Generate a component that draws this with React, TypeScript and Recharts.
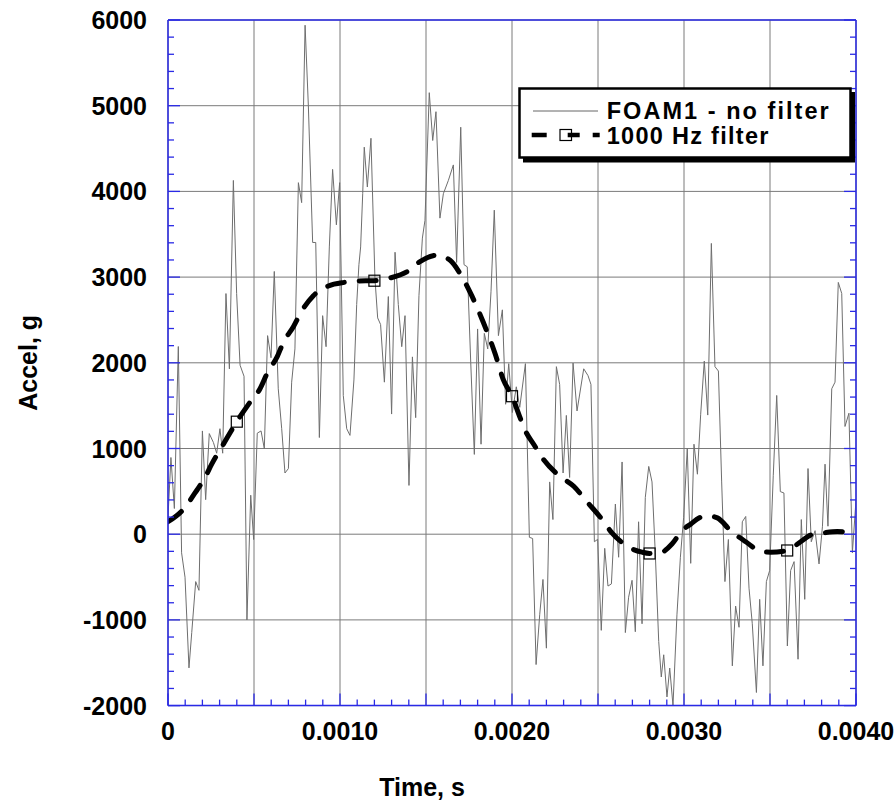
import React from 'react';
import { LineChart, Line, XAxis, YAxis, CartesianGrid, Legend } from 'recharts';

// ---------- data (time in ms, acceleration in g) ----------
const rawTimeMs = [
  0, 0.017, 0.037, 0.06, 0.079, 0.099, 0.122, 0.138, 0.161, 0.18,
  0.2, 0.219, 0.24, 0.264, 0.283, 0.302, 0.318, 0.337, 0.357, 0.38,
  0.399, 0.419, 0.442, 0.459, 0.481, 0.498, 0.519, 0.541, 0.56, 0.579,
  0.599, 0.618, 0.641, 0.661, 0.68, 0.7, 0.719, 0.738, 0.758, 0.777,
  0.797, 0.816, 0.841, 0.859, 0.88, 0.899, 0.919, 0.938, 0.957, 0.979,
  0.998, 1.019, 1.039, 1.058, 1.081, 1.097, 1.11, 1.12, 1.132, 1.141,
  1.159, 1.18, 1.203, 1.219, 1.236, 1.258, 1.281, 1.3, 1.32, 1.339,
  1.359, 1.378, 1.401, 1.421, 1.44, 1.459, 1.479, 1.494, 1.519, 1.539,
  1.558, 1.581, 1.601, 1.63, 1.659, 1.678, 1.702, 1.721, 1.74, 1.76,
  1.781, 1.8, 1.82, 1.839, 1.859, 1.878, 1.897, 1.921, 1.944, 1.963,
  1.981, 2.002, 2.025, 2.045, 2.078, 2.101, 2.12, 2.14, 2.161, 2.18,
  2.2, 2.219, 2.238, 2.258, 2.277, 2.297, 2.316, 2.335, 2.355, 2.378,
  2.417, 2.442, 2.459, 2.479, 2.498, 2.519, 2.539, 2.558, 2.578, 2.601,
  2.62, 2.64, 2.659, 2.678, 2.698, 2.717, 2.736, 2.756, 2.775, 2.795,
  2.814, 2.833, 2.853, 2.868, 2.882, 2.901, 2.917, 2.936, 2.959, 2.979,
  2.998, 3.019, 3.039, 3.058, 3.078, 3.097, 3.118, 3.138, 3.159, 3.18,
  3.2, 3.219, 3.238, 3.258, 3.281, 3.3, 3.32, 3.339, 3.359, 3.378,
  3.397, 3.421, 3.44, 3.459, 3.479, 3.498, 3.519, 3.539, 3.56, 3.581,
  3.601, 3.62, 3.64, 3.663, 3.682, 3.702, 3.721, 3.74, 3.762, 3.785,
  3.805, 3.82, 3.837, 3.859, 3.878, 3.897, 3.917, 3.936, 3.959, 3.979,
  4.0,
];
const rawAccel = [
  200, 895, 300, 2190, -217, -502, -1560, -1148, -553, -655,
  1205, 403, 1174, 1070, 945, 1231, 945, 2808, 1929, 4128,
  2808, 1972, 1843, -1000, 455, -62, 1179, 1205, 998, 2317,
  2059, 3066, 1697, 1231, 714, 766, 1774, 2162, 4102, 3869,
  5939, 5000, 3404, 3404, 1128, 2550, 2188, 3352, 4257, 3610,
  4102, 1619, 1231, 1153, 1800, 2680, 3145, 3352, 3973, 4516,
  4051, 4620, 2990, 2524, 2447, 1774, 2773, 1402, 3290, 2680,
  2188, 2550, 569, 2069, 1360, 2783, 3455, 3662, 5152, 4594,
  4930, 3688, 3973, 4128, 4309, 3171, 4749, 3145, 3120, 2007,
  931, 2395, 1050, 2343, 2162, 2835, 3781, 2317, 2618, 1516,
  1990, 1420, 1720, 1480, 1990, -36, -50, -1521, -940, -528,
  -1330, 610, 171, 1955, 1748, 714, 1386, 662, 1997, 1438,
  1930, 1850, 1748, -88, -60, -1122, -165, -605, -580, 352,
  -269, 843, -1148, -735, -538, -1138, 145, -1045, 429, 791,
  610, -217, -1252, -1666, -1407, -1899, -1562, -2000, -941, -269,
  197, 1000, -340, 1050, 700, 1400, 2020, 1390, 3393, 1955,
  1904, 610, -553, -62, -1536, -838, -1086, 145, 207, -630,
  -1045, -1847, -760, -1536, -553, -424, 688, 1619, 497, 481,
  -1304, -424, -320, -1459, 171, -760, 766, -88, 41, -347,
  93, 817, 93, 1697, 1774, 2938, 2809, 1257, 1412, -217,
  400,
];

const filtTimeMs = [
  0, 0.089, 0.157, 0.215, 0.254, 0.322, 0.4, 0.477, 0.535, 0.583,
  0.632, 0.671, 0.729, 0.777, 0.845, 0.932, 1.029, 1.1, 1.2, 1.291,
  1.388, 1.465, 1.562, 1.64, 1.698, 1.766, 1.833, 1.901, 1.95, 2.0,
  2.047, 2.078, 2.126, 2.184, 2.271, 2.359, 2.436, 2.514, 2.581, 2.669,
  2.756, 2.8, 2.862, 2.93, 2.988, 3.04, 3.087, 3.136, 3.194, 3.271,
  3.359, 3.446, 3.504, 3.6, 3.678, 3.736, 3.814, 3.891, 4.0,
];
const filtAccel = [
  145, 290, 481, 662, 817, 1050, 1313, 1541, 1697, 1904,
  2059, 2240, 2421, 2602, 2783, 2897, 2940, 2955, 2958, 2990,
  3060, 3181, 3255, 3197, 3042, 2783, 2473, 2111, 1800, 1610,
  1360, 1205, 1050, 869, 688, 559, 378, 197, 16, -140,
  -210, -225, -217, -114, 41, 120, 190, 215, 190, 41,
  -88, -200, -210, -190, -88, -10, 16, 31, 0,
];
const filtMarkerTimesMs = [0.4, 1.2, 2.0, 2.8, 3.6];

const seriesNames = ['FOAM1 - no filter', '1000 Hz filter'];

// axis ticks (ms / g)
const xMinorTicks = [
  0, 0.1, 0.2, 0.3, 0.4, 0.5, 0.6, 0.7, 0.8, 0.9,
  1, 1.1, 1.2, 1.3, 1.4, 1.5, 1.6, 1.7, 1.8, 1.9,
  2, 2.1, 2.2, 2.3, 2.4, 2.5, 2.6, 2.7, 2.8, 2.9,
  3, 3.1, 3.2, 3.3, 3.4, 3.5, 3.6, 3.7, 3.8, 3.9, 4,
];
const xGridValues = [0, 0.5, 1, 1.5, 2, 2.5, 3, 3.5, 4];
const xLabelValues = [0, 1, 2, 3, 4];
const xLabelTexts = ['0', '0.0010', '0.0020', '0.0030', '0.0040'];
const yMinorTicks = [
  -2000, -1800, -1600, -1400, -1200, -1000, -800, -600, -400, -200,
  0, 200, 400, 600, 800, 1000, 1200, 1400, 1600, 1800,
  2000, 2200, 2400, 2600, 2800, 3000, 3200, 3400, 3600, 3800,
  4000, 4200, 4400, 4600, 4800, 5000, 5200, 5400, 5600, 5800, 6000,
];
const yGridValues = [-2000, -1000, 0, 1000, 2000, 3000, 4000, 5000, 6000];
const yLabelTexts = ['-2000', '-1000', '0', '1000', '2000', '3000', '4000', '5000', '6000'];

const rawTable = rawTimeMs.map((t, i) => ({ t, a: rawAccel[i] }));
const filtTable = filtTimeMs.map((t, i) => ({ t, a: filtAccel[i] }));

// ---------- styles ----------
const FONT = "'Liberation Sans', Arial, Helvetica, sans-serif";
const BLUE = '#2a2ae6';
const GRID = '#7a7a7a';
const near = (a: number, b: number) => Math.abs(a - b) < 1e-6;
const isIn = (v: number, arr: number[]) => arr.some((w) => near(v, w));

const BottomTick = (props: any) => {
  const { x, y, payload } = props;
  const v = payload.value;
  const len = isIn(v, xGridValues) ? 12 : 6;
  const li = xLabelValues.findIndex((w) => near(w, v));
  return (
    <g>
      <line x1={x} x2={x} y1={y} y2={y - len} stroke={BLUE} strokeWidth={1.3} />
      {li >= 0 && (
        <text x={x} y={y + 34} textAnchor="middle" fontFamily={FONT} fontWeight="bold" fontSize={25} fill="#000">
          {xLabelTexts[li]}
        </text>
      )}
    </g>
  );
};
const TopTick = (props: any) => {
  const { x, y, payload } = props;
  const len = isIn(payload.value, xGridValues) ? 12 : 6;
  return <line x1={x} x2={x} y1={y} y2={y + len} stroke={BLUE} strokeWidth={1.3} />;
};
const LeftTick = (props: any) => {
  const { x, y, payload } = props;
  const v = payload.value;
  const li = yGridValues.findIndex((w) => near(w, v));
  const len = li >= 0 ? 12 : 6;
  return (
    <g>
      <line x1={x} x2={x + len} y1={y} y2={y} stroke={BLUE} strokeWidth={1.3} />
      {li >= 0 && (
        <text x={x - 21} y={y} dy="0.36em" textAnchor="end" fontFamily={FONT} fontWeight="bold" fontSize={25} fill="#000">
          {yLabelTexts[li]}
        </text>
      )}
    </g>
  );
};
const RightTick = (props: any) => {
  const { x, y, payload } = props;
  const len = isIn(payload.value, yGridValues) ? 12 : 6;
  return <line x1={x} x2={x - len} y1={y} y2={y} stroke={BLUE} strokeWidth={1.3} />;
};

const YTitle = (props: any) => {
  const vb = props.viewBox || { x: 0, y: 20, width: 168, height: 686 };
  const cx = vb.x + 28;
  const cy = vb.y + vb.height / 2;
  return (
    <text x={cx} y={cy} transform={`rotate(-90 ${cx} ${cy})`} textAnchor="middle" dy="0.36em"
      fontFamily={FONT} fontWeight="bold" fontSize={25} fill="#000">
      Accel, g
    </text>
  );
};
const XTitle = (props: any) => {
  const vb = props.viewBox || { x: 168, y: 705, width: 688, height: 98 };
  return (
    <text x={vb.x + 254} y={vb.y + 90} textAnchor="middle" fontFamily={FONT} fontWeight="bold" fontSize={25} fill="#000">
      Time, s
    </text>
  );
};

const FilterDot = (props: any) => {
  const { cx, cy, payload, index } = props;
  if (!payload || !isIn(payload.t, filtMarkerTimesMs) || cx == null) return <g key={`d${index}`} />;
  return <rect key={`d${index}`} x={cx - 5.5} y={cy - 5.5} width={11} height={11} fill="none" stroke="#000" strokeWidth={1.2} />;
};

const LegendBox = () => (
  <svg width={345} height={80} style={{ display: 'block' }}>
    <rect x={5} y={5} width={332} height={70.5} fill="#000" />
    <rect x={1.5} y={1.5} width={331} height={69} fill="#fff" stroke="#000" strokeWidth={2.5} />
    <line x1={15} x2={80} y1={24} y2={24} stroke="#666" strokeWidth={1} />
    <text x={88.7} y={32} fontFamily={FONT} fontWeight="bold" fontSize={23.5} textLength={222} lengthAdjust="spacing" fill="#000">
      {seriesNames[0]}
    </text>
    <line x1={13.7} x2={82} y1={48} y2={48} stroke="#000" strokeWidth={4.5} strokeDasharray="15 21 12 13 7 40" />
    <rect x={42} y={42.5} width={11.5} height={11} fill="none" stroke="#000" strokeWidth={1.2} />
    <text x={88.7} y={56.5} fontFamily={FONT} fontWeight="bold" fontSize={23.5} textLength={161.7} lengthAdjust="spacing" fill="#000">
      {seriesNames[1]}
    </text>
  </svg>
);

export default function App() {
  return (
    <div style={{ position: 'absolute', left: 0, top: 0, width: 894, height: 803 }}>
      <LineChart width={894} height={803} margin={{ top: 0, right: 0, bottom: 0, left: 0 }}>
        <CartesianGrid stroke={GRID} strokeWidth={1} verticalValues={xGridValues} horizontalValues={yGridValues} />
        <XAxis
          dataKey="t" type="number" domain={[0, 4]} ticks={xMinorTicks} interval={0} allowDataOverflow
          height={97.4} tickSize={0} tickMargin={0} tickLine={false} tick={<BottomTick />}
          axisLine={{ stroke: BLUE, strokeWidth: 1.5 }} label={<XTitle />}
        />
        <XAxis
          xAxisId="top" orientation="top" type="number" domain={[0, 4]} ticks={xMinorTicks} interval={0} allowDataOverflow
          height={20} tickSize={0} tickMargin={0} tickLine={false} tick={<TopTick />}
          axisLine={{ stroke: BLUE, strokeWidth: 1.5 }}
        />
        <YAxis
          type="number" domain={[-2000, 6000]} ticks={yMinorTicks} interval={0} allowDataOverflow
          width={168} tickSize={0} tickMargin={0} tickLine={false} tick={<LeftTick />}
          axisLine={{ stroke: BLUE, strokeWidth: 1.5 }} label={<YTitle />}
        />
        <YAxis
          yAxisId="right" orientation="right" type="number" domain={[-2000, 6000]} ticks={yMinorTicks} interval={0} allowDataOverflow
          width={38} tickSize={0} tickMargin={0} tickLine={false} tick={<RightTick />}
          axisLine={{ stroke: BLUE, strokeWidth: 1.5 }}
        />
        <Line
          data={rawTable} dataKey="a" name={seriesNames[0]} type="linear" stroke="#6e6e6e" strokeWidth={1}
          dot={false} activeDot={false} isAnimationActive={false}
        />
        <Line
          data={filtTable} dataKey="a" name={seriesNames[1]} type="monotone" stroke="#000" strokeWidth={5}
          strokeDasharray="17 15" strokeLinecap="round" dot={<FilterDot />} activeDot={false} isAnimationActive={false}
        />
        <Legend
          layout="vertical" align="center" verticalAlign="middle" content={<LegendBox />}
          wrapperStyle={{ position: 'absolute', left: 518, top: 87, width: 345, height: 80 }}
        />
      </LineChart>
    </div>
  );
}
